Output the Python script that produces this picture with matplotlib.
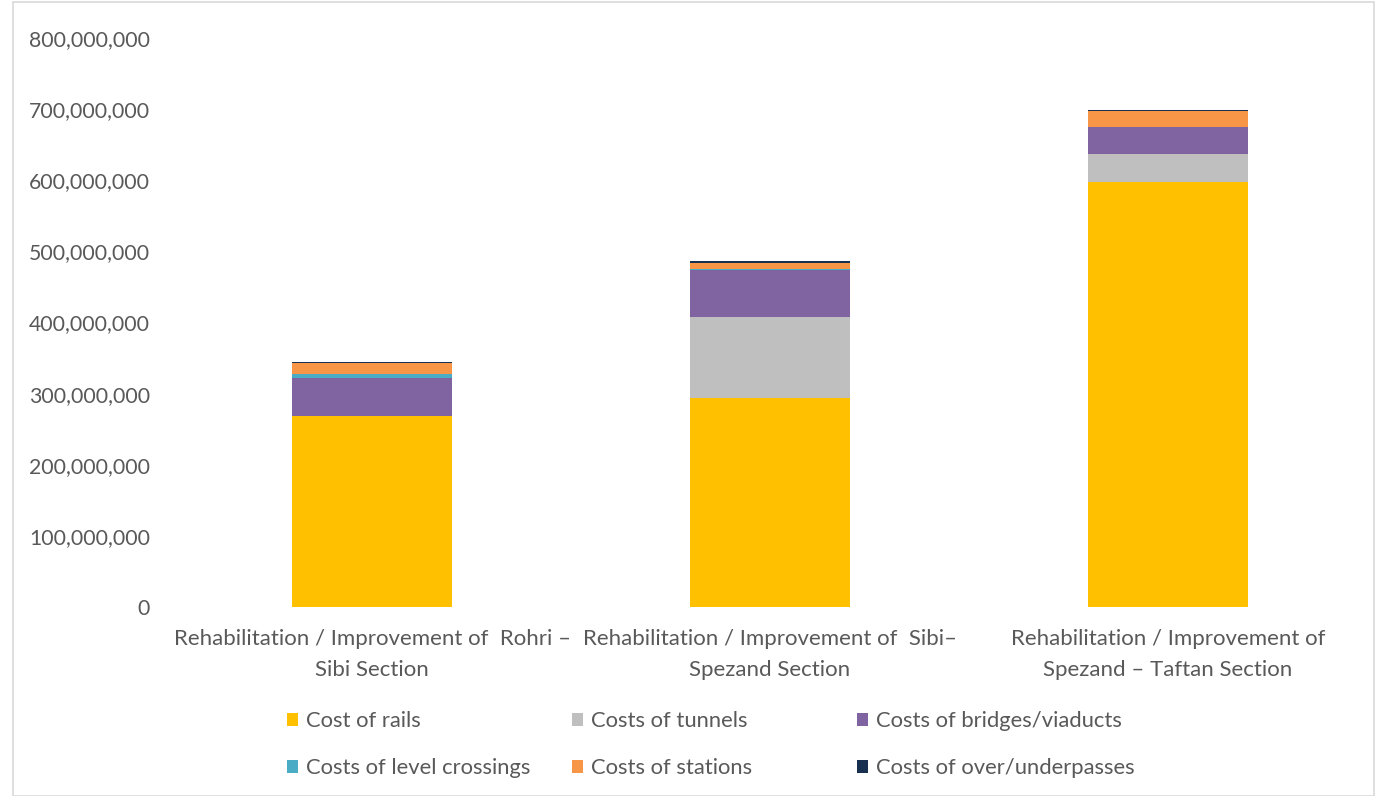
import matplotlib.pyplot as plt
import numpy as np
from matplotlib.patches import Rectangle
from matplotlib.ticker import FuncFormatter

plt.rcParams['font.family'] = ['Lato', 'DejaVu Sans']

sections = ["Rehabilitation / Improvement of  Rohri \u2013\nSibi Section",
            "Rehabilitation / Improvement of  Sibi\u2013\nSpezand Section",
            "Rehabilitation / Improvement of\nSpezand \u2013 Taftan Section"]
series = ["Cost of rails", "Costs of tunnels", "Costs of bridges/viaducts",
          "Costs of level crossings", "Costs of stations", "Costs of over/underpasses"]
colors = ["#FFC000", "#BFBFBF", "#8064A2", "#4BACC6", "#F79646", "#17304F"]

rails = [268.6e6, 293.9e6, 597.2e6]
tunnels = [0, 113.9e6, 39.8e6]
bridges = [53.8e6, 66.6e6, 37.6e6]
level_crossings = [5.6e6, 0.5e6, 0.3e6]
stations = [14.6e6, 9.3e6, 22.8e6]
overpasses = [2.0e6, 2.0e6, 1.4e6]
values = [rails, tunnels, bridges, level_crossings, stations, overpasses]

fig = plt.figure(figsize=(13.75, 7.96), dpi=100)
ax = fig.add_axes([173/1375, 1-607/796, 1194/1375, 569/796])

x = np.arange(len(sections))
bottom = np.zeros(len(sections))
handles = []
for name, vals, c in zip(series, values, colors):
    b = ax.bar(x, vals, 0.4, bottom=bottom, color=c, label=name, edgecolor='none')
    handles.append(b)
    bottom += np.array(vals)

ax.set_xlim(-0.5, 2.5)
ax.set_ylim(0, 800e6)
ax.set_yticks(np.arange(0, 800e6 + 1, 100e6))
ax.yaxis.set_major_formatter(FuncFormatter(lambda v, p: f"{int(v):,}"))
ax.set_xticks(x)
ax.set_xticklabels(sections)
for s in ax.spines.values():
    s.set_visible(False)
ax.tick_params(length=0, colors='#595959')
ax.tick_params(axis='y', pad=16.5, labelsize=15.3)
ax.tick_params(axis='x', pad=16, labelsize=16)
for t in ax.get_xticklabels():
    t.set_linespacing(1.65)

# one legend per column, so columns get equal spacing like the original
col_x = [287, 572, 857]
for k, cx in enumerate(col_x):
    idx = [k, k + 3]
    fig.legend([handles[i] for i in idx], [series[i] for i in idx],
               loc='upper left', bbox_to_anchor=(cx/1375, 1-711/796), frameon=False,
               fontsize=15.8, labelcolor='#595959', handlelength=0.52, handleheight=0.52,
               handletextpad=0.35, labelspacing=1.25, borderpad=0, borderaxespad=0)

fig.patches.append(Rectangle((13/1375, 0), 1 - 13/1375 - 0.001, 0.998, transform=fig.transFigure,
                             fill=False, edgecolor='#D9D9D9', linewidth=1.2))

fig.savefig("out.png", dpi=100)
